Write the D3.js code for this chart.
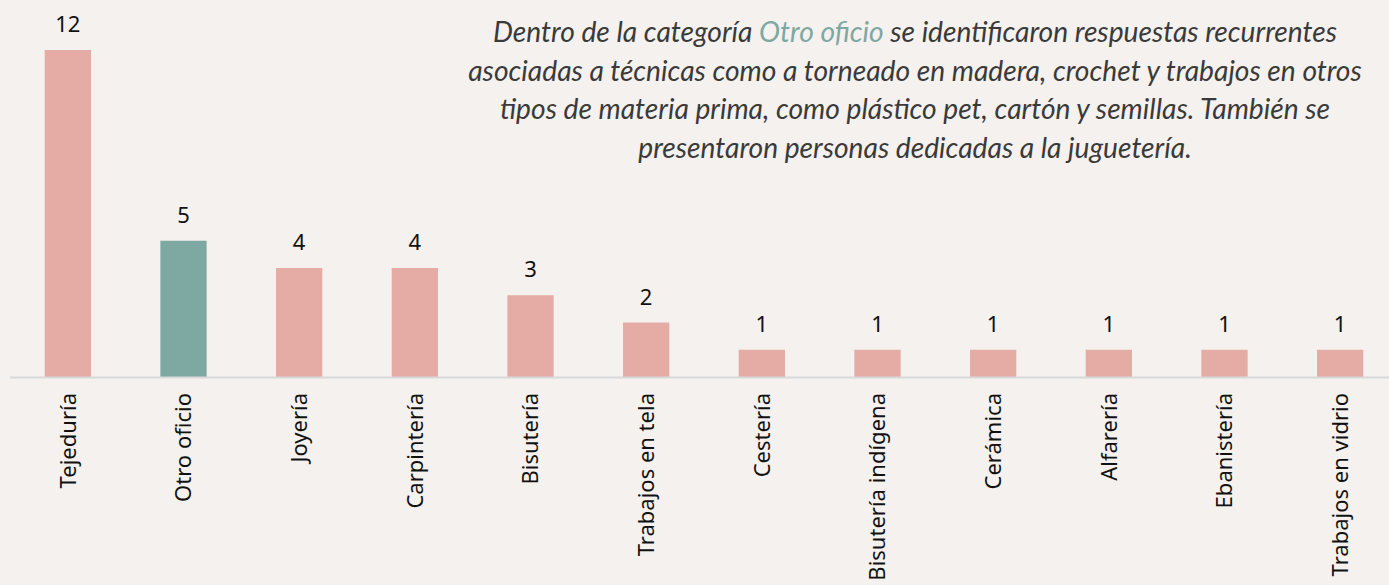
<!DOCTYPE html>
<html>
<head>
<meta charset="utf-8">
<script src="https://cdn.jsdelivr.net/npm/d3@7"></script>
<style>
  body { margin: 0; background: #f4f1ee; }
  .label { font-family: "Noto Sans", sans-serif; font-size: 22px; fill: #111; }
  .note { font-family: Lato, sans-serif; font-style: italic; font-size: 28.2px; fill: #3a3a3a; }
</style>
</head>
<body>
<svg id="chart"></svg>
<script>
var categories = ["Tejeduría", "Otro oficio", "Joyería", "Carpintería", "Bisutería", "Trabajos en tela",
  "Cestería", "Bisutería indígena", "Cerámica", "Alfarería", "Ebanistería", "Trabajos en vidrio"];
var values = [12, 5, 4, 4, 3, 2, 1, 1, 1, 1, 1, 1];
var highlight = "Otro oficio";
var noteLines = [
  [["Dentro de la categoría ", false], ["Otro oficio", true], [" se identificaron respuestas recurrentes", false]],
  [["asociadas a técnicas como a torneado en madera, crochet y trabajos en otros", false]],
  [["tipos de materia prima, como plástico pet, cartón y semillas. También se", false]],
  [["presentaron personas dedicadas a la juguetería.", false]]
];

var W = 1389, H = 585;
var margin = { top: 50, left: 10, bottom: 208, right: 0 };
var width = W - margin.left - margin.right,
    height = H - margin.top - margin.bottom;

var svg = d3.select("#chart").attr("width", W).attr("height", H);
svg.append("rect").attr("width", W).attr("height", H).attr("fill", "#f4f1ee");

var g = svg.append("g").attr("transform", "translate(" + margin.left + "," + margin.top + ")");

var x = d3.scaleBand().domain(categories).range([0, 1388]).paddingInner(0.6).paddingOuter(0.3);
var y = d3.scaleLinear().domain([0, 12]).range([height, 0]);

g.selectAll(".bar")
  .data(values)
  .enter().append("rect")
  .attr("x", function(d, i) { return x(categories[i]); })
  .attr("y", function(d) { return y(d); })
  .attr("width", x.bandwidth())
  .attr("height", function(d) { return height - y(d); })
  .attr("fill", function(d, i) { return categories[i] === highlight ? "#7ea8a2" : "#e5aba5"; });

g.append("line")
  .attr("x1", 0).attr("x2", width)
  .attr("y1", height + 0.5).attr("y2", height + 0.5)
  .attr("stroke", "#d9d9d9").attr("stroke-width", 2);

g.selectAll(".val")
  .data(values)
  .enter().append("text")
  .attr("class", "label")
  .attr("text-anchor", "middle")
  .attr("x", function(d, i) { return x(categories[i]) + x.bandwidth() / 2; })
  .attr("y", function(d) { return y(d) - 18; })
  .text(function(d) { return d; });

g.selectAll(".cat")
  .data(categories)
  .enter().append("text")
  .attr("class", "label")
  .attr("text-anchor", "end")
  .attr("dy", "0.35em")
  .attr("transform", function(d) {
    return "translate(" + (x(d) + x.bandwidth() / 2) + "," + (height + 16) + ") rotate(-90)";
  })
  .text(function(d) { return d; });

var note = svg.append("text").attr("class", "note").attr("text-anchor", "middle");
noteLines.forEach(function(line, i) {
  var t = note.append("tspan").attr("x", 915).attr("y", 42 + i * 38.5);
  line.forEach(function(part) {
    t.append("tspan").attr("fill", part[1] ? "#7ea8a2" : null).text(part[0]);
  });
});
</script>
</body>
</html>
